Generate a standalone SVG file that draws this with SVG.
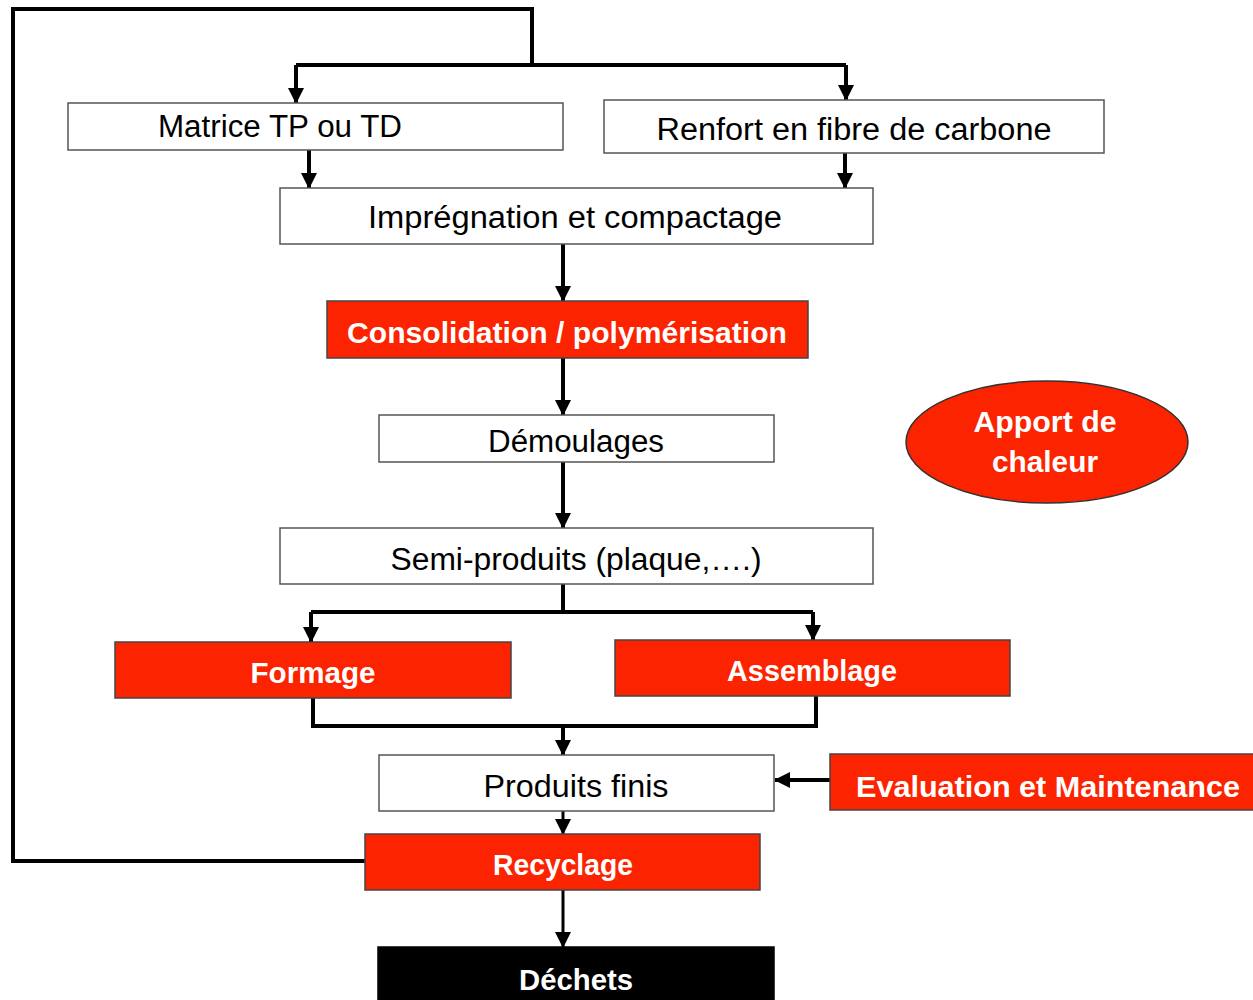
<svg xmlns="http://www.w3.org/2000/svg" width="1253" height="1000" viewBox="0 0 1253 1000">
<style>
.box{fill:#ffffff;stroke:#555555;stroke-width:1.5}
.red{fill:#fc2300;stroke:#444444;stroke-width:1.5}
.blk{fill:#000000;stroke:#000000;stroke-width:1.5}
.t{font-family:"Liberation Sans",Arial,sans-serif;font-size:31px;fill:#000000;text-anchor:middle}
.w{font-family:"Liberation Sans",Arial,sans-serif;font-size:29px;font-weight:bold;fill:#ffffff;text-anchor:middle}
.c{fill:none;stroke:#000000;stroke-width:4;stroke-linejoin:miter}
.a{marker-end:url(#ah)}
</style>
<defs>
<marker id="ah" markerUnits="userSpaceOnUse" markerWidth="16" markerHeight="16" viewBox="0 0 16 16" refX="15" refY="8" orient="auto">
<path d="M0,0 L16,8 L0,16 z" fill="#000000"/>
</marker>
</defs>
<rect width="1253" height="1000" fill="#ffffff"/>
<g id="connectors">
<path class="c" d="M365,861 H13 V9 H532 V65"/>
<path class="c" d="M296,65 H846"/>
<path class="c a" d="M296,65 V103"/>
<path class="c a" d="M846,65 V100"/>
<path class="c a" d="M309,150 V188"/>
<path class="c a" d="M845,153 V188"/>
<path class="c a" d="M563,244 V301"/>
<path class="c a" d="M563,358 V415"/>
<path class="c a" d="M563,462 V528"/>
<path class="c" d="M563,584 V612"/>
<path class="c" d="M311,612 H813"/>
<path class="c a" d="M311,612 V642"/>
<path class="c a" d="M813,612 V640"/>
<path class="c" d="M313,698 V726 H816 V696"/>
<path class="c a" d="M563,726 V755"/>
<path class="c a" d="M830,780 H775"/>
<path class="c a" style="stroke-width:3" d="M563,811 V834"/>
<path class="c a" style="stroke-width:3" d="M563,890 V947"/>
</g>
<g id="matrice"><rect class="box" x="68" y="103" width="495" height="47"/><text class="t" x="280" y="137" textLength="244" lengthAdjust="spacingAndGlyphs">Matrice TP ou TD</text></g>
<g id="renfort"><rect class="box" x="604" y="100" width="500" height="53"/><text class="t" x="854" y="140" textLength="395" lengthAdjust="spacingAndGlyphs">Renfort en fibre de carbone</text></g>
<g id="impregnation"><rect class="box" x="280" y="188" width="593" height="56"/><text class="t" x="575" y="228" textLength="414" lengthAdjust="spacingAndGlyphs">Imprégnation et compactage</text></g>
<g id="consolidation"><rect class="red" x="327" y="301" width="481" height="57"/><text class="w" x="567" y="343" textLength="440" lengthAdjust="spacingAndGlyphs">Consolidation / polymérisation</text></g>
<g id="demoulages"><rect class="box" x="379" y="415" width="395" height="47"/><text class="t" x="576" y="452" textLength="176" lengthAdjust="spacingAndGlyphs">Démoulages</text></g>
<g id="apport"><ellipse cx="1047" cy="442" rx="141" ry="61" fill="#fc2300" stroke="#333333" stroke-width="1.5"/><text class="w" x="1045" y="432" textLength="143" lengthAdjust="spacingAndGlyphs">Apport de</text><text class="w" x="1045" y="472" textLength="106" lengthAdjust="spacingAndGlyphs">chaleur</text></g>
<g id="semi"><rect class="box" x="280" y="528" width="593" height="56"/><text class="t" x="576" y="570" textLength="371" lengthAdjust="spacingAndGlyphs">Semi-produits (plaque,….)</text></g>
<g id="formage"><rect class="red" x="115" y="642" width="396" height="56"/><text class="w" x="313" y="683" textLength="125" lengthAdjust="spacingAndGlyphs">Formage</text></g>
<g id="assemblage"><rect class="red" x="615" y="640" width="395" height="56"/><text class="w" x="812" y="681" textLength="170" lengthAdjust="spacingAndGlyphs">Assemblage</text></g>
<g id="produits"><rect class="box" x="379" y="755" width="395" height="56"/><text class="t" x="576" y="797" textLength="185" lengthAdjust="spacingAndGlyphs">Produits finis</text></g>
<g id="evaluation"><rect class="red" x="830" y="754" width="430" height="56"/><text class="w" x="1048" y="797" textLength="384" lengthAdjust="spacingAndGlyphs">Evaluation et Maintenance</text></g>
<g id="recyclage"><rect class="red" x="365" y="834" width="395" height="56"/><text class="w" x="563" y="875" textLength="140" lengthAdjust="spacingAndGlyphs">Recyclage</text></g>
<g id="dechets"><rect class="blk" x="378" y="947" width="396" height="60"/><text class="w" x="576" y="990" textLength="114" lengthAdjust="spacingAndGlyphs">Déchets</text></g>
</svg>
